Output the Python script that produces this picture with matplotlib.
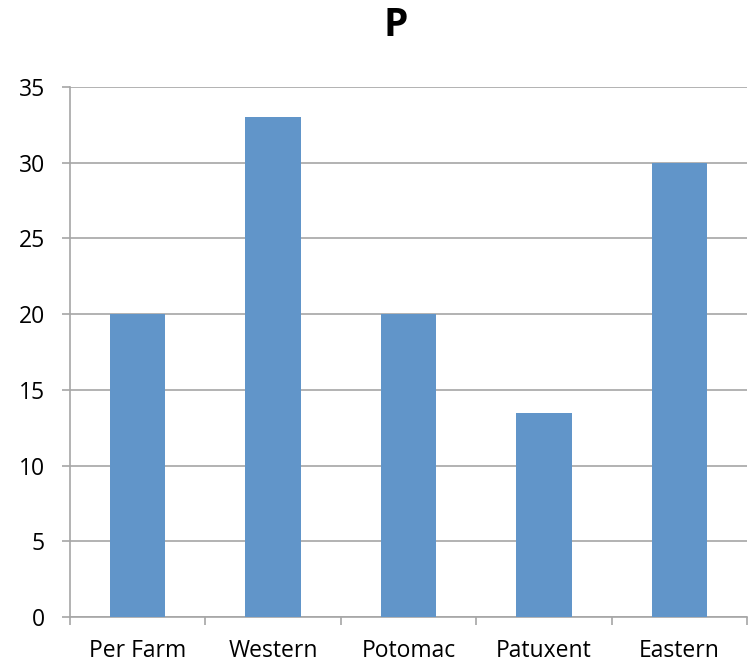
import matplotlib
matplotlib.use("Agg")
import matplotlib.pyplot as plt
import numpy as np

# chart data
categories = ["Per Farm", "Western", "Potomac", "Patuxent", "Eastern"]
values = [20, 33, 20, 13.5, 30]
y_ticks = [0, 5, 10, 15, 20, 25, 30, 35]

BAR_COLOR = "#6195C9"
GRID_COLOR = "#A6A6A6"

plt.rcParams["font.family"] = ["Open Sans", "DejaVu Sans"]

fig = plt.figure(figsize=(7.5, 6.64), dpi=100)
ax = fig.add_axes([0.0933, 0.0708, 0.9027, 0.7982])

x = np.arange(len(categories))
ax.bar(x, values, width=0.41, color=BAR_COLOR, zorder=3)

ax.set_xlim(-0.5, len(categories) - 0.5)
ax.set_ylim(0, 35)
ax.set_yticks(y_ticks)
ax.set_yticklabels([str(t) for t in y_ticks], fontsize=16.5)
ax.yaxis.grid(True, color=GRID_COLOR, linewidth=1.2, zorder=0)
ax.tick_params(axis="y", length=6, width=1.2, color=GRID_COLOR, pad=12)

# category labels centred, tick marks between categories
ax.set_xticks(np.arange(-0.5, len(categories)), minor=False)
ax.set_xticklabels([])
ax.set_xticks(x, minor=True)
ax.set_xticklabels(categories, minor=True, fontsize=16.5)
ax.tick_params(axis="x", which="major", length=6, width=1.2, color=GRID_COLOR)
ax.tick_params(axis="x", which="minor", length=0, pad=16)

for side in ["top", "right"]:
    ax.spines[side].set_visible(False)
for side in ["left", "bottom"]:
    ax.spines[side].set_color(GRID_COLOR)
    ax.spines[side].set_linewidth(1.2)

fig.text(0.527, 0.962, "P", ha="center", va="center", fontsize=28, fontweight="bold")

fig.savefig("out.png", dpi=100)
